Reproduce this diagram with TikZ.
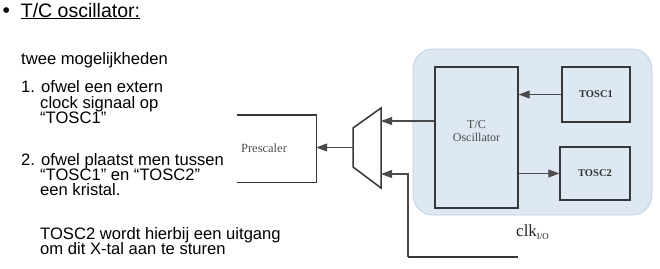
\documentclass[tikz,border=0pt]{standalone}
\usepackage{fontspec}
\setmainfont{Liberation Serif}
\newfontfamily\slidefont{Liberation Sans}
\usetikzlibrary{arrows.meta}
\definecolor{panelfill}{RGB}{222,232,243}
\definecolor{panelline}{RGB}{192,206,224}
\definecolor{wire}{RGB}{55,55,55}
\definecolor{labelgray}{RGB}{75,75,75}
\begin{document}
\begin{tikzpicture}[x=1pt,y=-1pt,
  slidetext/.style={anchor=base west, inner sep=0pt, text=black,
    font=\slidefont\fontsize{16.6}{18}\selectfont},
  blockbox/.style={draw=wire, line width=1.4pt, inner sep=0pt},
  wireline/.style={draw=wire!90, line width=1.1pt},
  tip/.style={-{Triangle[length=11pt,width=8pt]}},
  blocklabel/.style={inner sep=0pt, text=labelgray, align=center},
]
\path[use as bounding box] (0,0) rectangle (660,268);

% ---- slide text ----
\node[slidetext, font=\slidefont\fontsize{21}{22}\selectfont] (bullet) at (2.5,17) {•};
\node[slidetext, font=\slidefont\fontsize{19.5}{22}\selectfont] (title) at (20.7,17) {T/C oscillator:};
\draw[line width=0.9pt] ([yshift=-1.8pt]title.base west) -- ([yshift=-1.8pt]title.base east);

\node[slidetext] (intro) at (21,64) {twee mogelijkheden};
\node[slidetext] (opta1) at (21,92.7) {1. ofwel een extern};
\node[slidetext] (opta2) at (40,108) {clock signaal op};
\node[slidetext] (opta3) at (40,123.3) {“TOSC1”};
\node[slidetext] (optb1) at (21,165) {2. ofwel plaatst men tussen};
\node[slidetext] (optb2) at (40,180) {“TOSC1” en “TOSC2”};
\node[slidetext] (optb3) at (40,195) {een kristal.};
\node[slidetext] (note1) at (40,239) {TOSC2 wordt hierbij een uitgang};
\node[slidetext] (note2) at (40,254) {om dit X-tal aan te sturen};

% ---- timer/counter oscillator panel ----
\node[draw=panelline, fill=panelfill, line width=0.8pt, rounded corners=20pt,
  minimum width=239pt, minimum height=166pt] (panel) at (532.5,132) {};

\node[blockbox, minimum width=83pt, minimum height=141pt] (osc) at (476.5,137.5) {};
\node[blocklabel, font=\fontsize{12}{13}\selectfont] (osclabel) at (476.5,131) {T/C\\Oscillator};

\node[blockbox, minimum width=68pt, minimum height=55pt,
  font=\bfseries\fontsize{10.5}{11}\selectfont, text=black!80] (tosca) at (596,94.5) {TOSC1};
\node[blockbox, minimum width=70pt, minimum height=53pt,
  font=\bfseries\fontsize{10.5}{11}\selectfont, text=black!80] (toscb) at (595,173.5) {TOSC2};

\draw[wireline, tip] (tosca.west) -- (osc.east |- tosca.west);
\draw[wireline, tip] (osc.east |- toscb.west) -- (toscb.west);

% ---- clock multiplexer ----
\coordinate (muxtl) at (353,128);
\coordinate (muxtr) at (381,108);
\coordinate (muxbr) at (381,188);
\coordinate (muxbl) at (353,167);
\draw[draw=wire, line width=1.5pt, line join=miter] (muxtl) -- (muxtr) -- (muxbr) -- (muxbl) -- cycle;
\coordinate (muxina) at (381,121);
\coordinate (muxinb) at (381,174);
\coordinate (muxout) at (353,147.5);

\draw[wireline, tip] (osc.west |- muxina) -- (muxina);

% clk I/O input
\coordinate (clkend) at (518,257);
\coordinate (clkcorner) at (408,257);
\draw[draw=wire, line width=2pt] (clkcorner) -- (clkend);
\draw[wireline, tip] (clkcorner) -- (clkcorner |- muxinb) -- (muxinb);
\node[anchor=base west, inner sep=0pt, text=black!85, font=\fontsize{17}{18}\selectfont] (clklabel) at (516,236)
  {clk\raisebox{-3.5pt}{\fontsize{9}{10}\selectfont I/O}};

% ---- prescaler ----
\node[inner sep=0pt, minimum width=79pt, minimum height=67pt] (pre) at (276.5,148.5) {};
\draw[draw=wire, line width=1.4pt] (pre.north west) -- (pre.north east) -- (pre.south east) -- (pre.south west);
\node[blocklabel, font=\fontsize{12.5}{14}\selectfont] (prelabel) at (264,148) {Prescaler};

\draw[wireline, tip] (muxout) -- (muxout -| pre.east);
\end{tikzpicture}
\end{document}
